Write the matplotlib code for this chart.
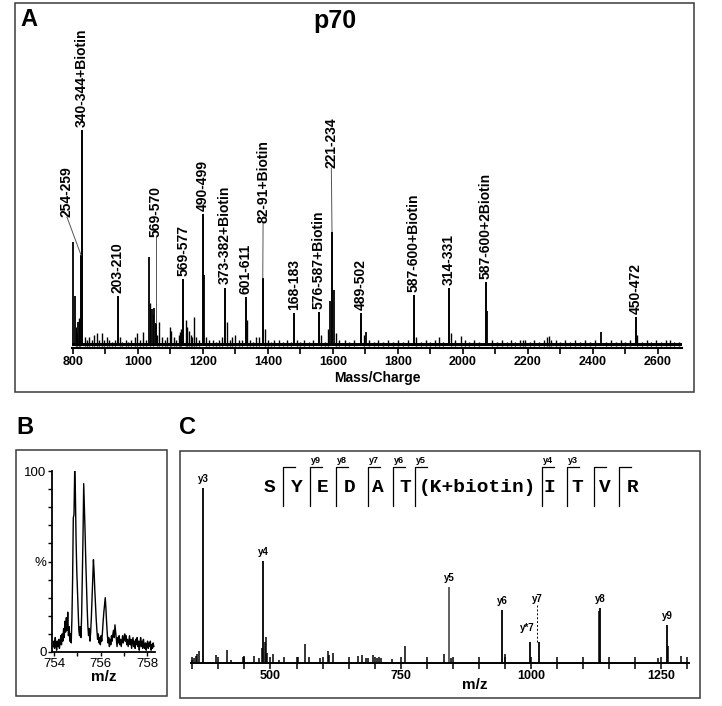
import matplotlib
matplotlib.use("Agg")
import matplotlib.pyplot as plt
from matplotlib.patches import Rectangle
from matplotlib.lines import Line2D

plt.rcParams["font.family"] = ["Liberation Sans", "DejaVu Sans"]

# ── panel A: MALDI peptide map of p70 ───────────────────────────────────
a_labels = ["254-259", "340-344+Biotin", "203-210", "569-570", "569-577",
            "490-499", "373-382+Biotin", "601-611", "82-91+Biotin", "168-183",
            "576-587+Biotin", "221-234", "489-502", "587-600+Biotin",
            "314-331", "587-600+2Biotin", "450-472"]
a_label_mz = [825, 828, 938, 1055, 1140, 1199, 1268, 1331, 1384, 1480,
              1557, 1597, 1686, 1849, 1957, 2071, 2531]
a_label_int = [42, 100, 23, 10.5, 31, 61, 27, 22.5, 31.5, 15.3,
               15.7, 53, 15.3, 23.6, 26.8, 29.6, 13.4]
# where the text of each label sits (m/z, intensity of its lower end)
a_text_mz = [781.5, 828, 938, 1055, 1141, 1200, 1268, 1331, 1385, 1480,
             1557, 1595, 1686, 1849, 1957, 2071, 2531]
a_text_int = [59.7, 101.4, 24.5, 50.5, 32.5, 62.5, 28.5, 24, 57, 16.8,
              17.2, 82.4, 16.8, 25.1, 28.3, 31.1, 14.9]

a_peak_mz = [800, 806, 815, 1034, 1043, 1049, 1202, 1591, 1603, 1702,
             2074, 2425]
a_peak_int = [48, 23, 11, 41, 17, 17.5, 33, 21, 26, 6.5, 16, 6.5]

a_noise_mz = [808, 811, 818, 822, 836, 842, 850, 858, 866, 874, 880, 889,
              896, 905, 912, 920, 930, 945, 952, 962, 970, 980, 990, 997,
              1005, 1015, 1024, 1038, 1046, 1060, 1065, 1074, 1082, 1090,
              1098, 1102, 1110, 1118, 1125, 1129, 1132, 1148, 1152, 1158,
              1162, 1166, 1172, 1180, 1188, 1210, 1220, 1230, 1240, 1250,
              1260, 1274, 1282, 1290, 1300, 1310, 1320, 1337, 1345, 1355,
              1363, 1372, 1390, 1400, 1410, 1420, 1434, 1445, 1458, 1470,
              1490, 1500, 1512, 1525, 1540, 1562, 1575, 1585, 1610, 1620,
              1637, 1650, 1665, 1694, 1712, 1725, 1740, 1755, 1770, 1785,
              1800, 1815, 1830, 1855, 1870, 1885, 1900, 1915, 1925, 1940,
              1962, 1975, 1994, 2005, 2020, 2035, 2050, 2090, 2105, 2120,
              2135, 2148, 2160, 2175, 2185, 2191, 2205, 2220, 2235, 2250,
              2258, 2265, 2272, 2286, 2300, 2315, 2330, 2345, 2360, 2375,
              2390, 2405, 2440, 2455, 2470, 2485, 2500, 2515, 2537, 2550,
              2565, 2580, 2595, 2610, 2625, 2638, 2650, 2665]
a_noise_int = [9, 6, 13, 5, 4, 3, 4, 3, 5, 6, 3, 6,
               3, 4, 3, 2, 3, 4, 2, 3, 2, 3, 4, 6,
               3, 6.5, 3, 20, 15, 5, 11, 4, 3, 4,
               9, 7, 4, 3, 5, 6.5, 8, 12, 9, 7,
               5, 4, 13.5, 4, 3, 4, 3, 3, 2, 3,
               4, 11, 3, 4, 5, 3, 3, 12, 3, 2,
               4, 4, 8, 3, 2, 3, 3, 2, 3, 2,
               3, 2, 3, 2, 3, 5, 2, 8, 6, 3,
               3, 2, 3, 5, 3, 2, 3, 2, 3, 2,
               3, 2, 3, 4, 2, 3, 2, 3, 4, 2,
               6, 3, 4.5, 3, 2, 3, 2, 3, 2, 3,
               2, 3, 2, 3, 3, 3, 2, 3, 2, 3,
               4, 4.5, 3, 3, 2, 3, 2, 3, 2, 3,
               2, 3, 2, 3, 2, 3, 2, 3, 5, 2,
               3, 2, 3, 2, 3, 3, 2, 2]

# ── panel B: isotope envelope ───────────────────────────────────────────
b_mz = [753.95, 753.98, 754.01, 754.04, 754.07, 754.10, 754.13, 754.16,
        754.19, 754.22, 754.25, 754.28, 754.31, 754.34, 754.37, 754.40,
        754.43, 754.46, 754.49, 754.52, 754.55, 754.58, 754.61, 754.64,
        754.67, 754.70, 754.73, 754.76, 754.79, 754.82, 754.85, 754.88,
        754.91, 754.94, 754.97, 755.00, 755.03, 755.06, 755.09, 755.12,
        755.15, 755.18, 755.21, 755.24, 755.27, 755.30, 755.33, 755.36,
        755.39, 755.42, 755.45, 755.48, 755.51, 755.54, 755.57, 755.60,
        755.63, 755.66, 755.69, 755.72, 755.75, 755.78, 755.81, 755.84,
        755.87, 755.90, 755.93, 755.96, 755.99, 756.02, 756.05, 756.08,
        756.11, 756.14, 756.17, 756.20, 756.23, 756.26, 756.29, 756.32,
        756.35, 756.38, 756.41, 756.44, 756.47, 756.50, 756.53, 756.56,
        756.59, 756.62, 756.65, 756.68, 756.71, 756.74, 756.77, 756.80,
        756.83, 756.86, 756.89, 756.92, 756.95, 756.98, 757.01, 757.04,
        757.07, 757.10, 757.13, 757.16, 757.19, 757.22, 757.25, 757.28,
        757.31, 757.34, 757.37, 757.40, 757.43, 757.46, 757.49, 757.52,
        757.55, 757.58, 757.61, 757.64, 757.67, 757.70, 757.73, 757.76,
        757.79, 757.82, 757.85, 757.88, 757.91, 757.94, 757.97, 758.00,
        758.03, 758.06, 758.09, 758.12, 758.15, 758.18, 758.21, 758.24,
        758.27, 758.30]
b_int = [3, 6, 2, 8, 4, 1, 6, 3,
         7, 2, 5, 9, 4, 10, 6, 13,
         8, 17, 11, 19, 12, 22, 9, 14,
         6, 10, 5, 18, 40, 74, 76, 100,
         88, 62, 45, 34, 22, 12, 9, 14,
         8, 20, 42, 64, 93, 80, 66, 50,
         37, 24, 14, 9, 13, 6, 11, 19,
         30, 40, 51, 44, 34, 26, 18, 12,
         7, 10, 5, 8, 4, 9, 6, 11,
         17, 22, 26, 30, 24, 16, 10, 5,
         8, 3, 7, 4, 9, 6, 10, 12,
         8, 15, 11, 7, 3, 8, 5, 9,
         4, 7, 3, 6, 9, 5, 8, 10,
         6, 9, 4, 7, 3, 6, 9, 4,
         7, 2, 5, 8, 3, 6, 2, 7,
         4, 8, 3, 6, 1, 5, 8, 3,
         6, 2, 7, 4, 2, 5, 1, 4,
         6, 2, 5, 3, 6, 1, 4, 2,
         5, 3]

# ── panel C: MS/MS of the biotinylated peptide ──────────────────────────
c_ion_names = ["y3", "y4", "y5", "y6", "y*7", "y7", "y8", "y9"]
c_ion_mz = [370.5, 485.6, 842.4, 944.1, 997.8, 1015.1, 1132.1, 1260.6]
c_ion_int = [100, 58.3, 43.4, 30.3, 12, 12, 31.4, 21.7]

c_peak_mz = [349.4, 353, 357, 359, 363, 395.5, 416.6, 424, 447, 449, 468,
             478, 483.7, 489.4, 491.4, 493, 505, 516, 526, 553, 566, 574,
             595, 610, 612, 620, 668, 675.5, 683, 687, 696.6, 704, 708,
             713, 733, 758, 832, 846, 949.8, 1130, 1243, 1262.5, 1287]
c_peak_int = [1.5, 3, 4, 5, 7, 4.5, 7.5, 2, 3.5, 4, 4,
              3, 8.5, 12, 15, 6, 5, 1.5, 3.5, 3.5, 11, 3.5,
              3, 7, 4.5, 5.5, 4, 4.5, 3, 3, 4.5, 3, 3.5,
              3, 2.5, 9.5, 5, 3, 5, 30, 3, 10, 4]

residues = ["S", "Y", "E", "D", "A", "T", "(K+biotin)", "I", "T", "V", "R"]
cleavage_ions = ["", "y9", "y8", "y7", "y6", "y5", "y4", "y3", "", ""]

# ── layout (pixel coordinates of the 722x706 original) ──────────────────
W, H = 722, 706


def box(x0, y0, x1, y1):
    return [x0 / W, 1 - y1 / H, (x1 - x0) / W, (y1 - y0) / H]


def fx(x):
    return x / W


def fy(y):
    return 1 - y / H


fig = plt.figure(figsize=(W / 100, H / 100), dpi=100)
fig.patch.set_facecolor("white")

frame_kw = dict(fill=False, edgecolor="#3a3a3a", linewidth=1.1,
                transform=fig.transFigure)
for x0, y0, x1, y1 in [(15, 3, 694, 392), (16, 450, 167, 696),
                       (180, 451, 700, 698)]:
    fig.add_artist(Rectangle((fx(x0), fy(y1)), (x1 - x0) / W, (y1 - y0) / H,
                             **frame_kw))

for txt, x, y in [("A", 29, 20), ("B", 25, 427), ("C", 188, 427)]:
    fig.text(fx(x), fy(y), txt, fontsize=17, fontweight="bold",
             ha="center", va="center")
fig.text(fx(335), fy(21), "p70", fontsize=18, fontweight="bold",
         ha="center", va="center")

# ── panel A ─────────────────────────────────────────────────────────────
ax = fig.add_axes(box(72, 130, 682, 348))
ax.set_xlim(797, 2674)
ax.set_ylim(-0.93, 100)
ax.axhline(0.9, color="black", lw=2.2, zorder=1)
ax.vlines(a_noise_mz, 0, a_noise_int, colors="black", lw=1.0)
ax.vlines(a_peak_mz, 0, a_peak_int, colors="black", lw=1.3)
ax.vlines(a_label_mz, 0, a_label_int, colors="black", lw=1.4)
for txt, pmz, pint, tmz, tint in zip(a_labels, a_label_mz, a_label_int,
                                     a_text_mz, a_text_int):
    ax.text(tmz, tint, txt, rotation=90, ha="center", va="bottom",
            fontsize=10, fontweight="bold", clip_on=False)
    if tint - pint > 3:
        ax.plot([tmz, pmz], [tint, pint], color="#555555", lw=0.7,
                clip_on=False)
for s in ["top", "left", "right"]:
    ax.spines[s].set_visible(False)
ax.spines["bottom"].set_linewidth(1.5)
ax.set_yticks([])
ax.set_xticks(range(800, 2601, 200))
ax.set_xticks(range(900, 2700, 100), minor=True)
ax.tick_params(axis="x", which="both", direction="out", length=4, width=1.2,
               pad=2, labelsize=9)
for lab in ax.get_xticklabels():
    lab.set_fontweight("bold")
ax.set_xlabel("Mass/Charge", fontsize=10, fontweight="bold", labelpad=2)
ax.patch.set_alpha(0)

# ── panel B ─────────────────────────────────────────────────────────────
bx = fig.add_axes(box(52, 471, 155, 652))
bx.plot(b_mz, b_int, color="black", lw=1.0)
bx.set_xlim(753.9, 758.35)
bx.set_ylim(0, 100)
for s in ["top", "right"]:
    bx.spines[s].set_visible(False)
for s in ["left", "bottom"]:
    bx.spines[s].set_linewidth(1.3)
bx.set_yticks(range(0, 101, 10))
bx.set_yticklabels(["0", "", "", "", "", "%", "", "", "", "", "100"])
bx.set_xticks([754, 756, 758])
bx.set_xticks([755, 757], minor=True)
bx.tick_params(which="both", direction="out", length=3, width=1, pad=1,
               labelsize=9.5)
bx.set_xlabel("m/z", fontsize=11, fontweight="bold", labelpad=0)
bx.patch.set_alpha(0)

# ── panel C ─────────────────────────────────────────────────────────────
cx = fig.add_axes(box(191, 488, 689, 663))
cx.set_xlim(347.5, 1303)
cx.set_ylim(0, 100)
cx.vlines(c_peak_mz, 0, c_peak_int, colors="black", lw=1.1)
for name, mz, it in zip(c_ion_names, c_ion_mz, c_ion_int):
    color = "#555555" if name == "y5" else "black"
    cx.vlines(mz, 0, it, colors=color, lw=1.3)
    if name == "y7":
        cx.plot([mz - 4, mz - 4], [it, 33], color="black", lw=0.7,
                linestyle=(0, (2, 2)))
        cx.text(mz - 4, 34, name, ha="center", va="bottom", fontsize=7,
                fontweight="bold")
    elif name == "y*7":
        cx.text(mz + 9, 20, name, ha="right", va="center", fontsize=7,
                fontweight="bold")
    else:
        cx.annotate(name, (mz, it), xytext=(0, 3), textcoords="offset points",
                    ha="center", va="bottom", fontsize=7, fontweight="bold")
for s in ["top", "left", "right"]:
    cx.spines[s].set_visible(False)
cx.spines["bottom"].set_linewidth(1.4)
cx.set_yticks([])
cx.set_xticks([500, 750, 1000, 1250])
cx.set_xticks(range(350, 1301, 50), minor=True)
cx.tick_params(axis="x", which="both", direction="inout", length=8,
               width=1.1, pad=1, labelsize=9)
for lab in cx.get_xticklabels():
    lab.set_fontweight("bold")
cx.text(0.57, -0.085, "m/z", transform=cx.transAxes, ha="center", va="top",
        fontsize=11, fontweight="bold")
cx.patch.set_alpha(0)

# peptide sequence with y-ion cleavage marks
res_x = [270, 297, 323, 350, 378, 405, 419, 549, 577, 605, 633]
for r, x in zip(residues, res_x):
    fig.text(fx(x), fy(488), r, family=["Liberation Mono", "DejaVu Sans Mono"],
             fontsize=14, fontweight="bold",
             ha="left" if len(r) > 1 else "center", va="center")
mark_x = [283, 310, 336, 368, 393, 415, 542, 567, 594, 619]
for ion, x in zip(cleavage_ions, mark_x):
    fig.add_artist(Line2D([fx(x), fx(x), fx(x + 12)],
                          [fy(506), fy(467), fy(467)], color="black", lw=0.9,
                          transform=fig.transFigure))
    if ion:
        fig.text(fx(x + 6), fy(465), ion, fontsize=6.5, fontweight="bold",
                 ha="center", va="bottom")

fig.savefig("out.png", dpi=100, facecolor="white")
